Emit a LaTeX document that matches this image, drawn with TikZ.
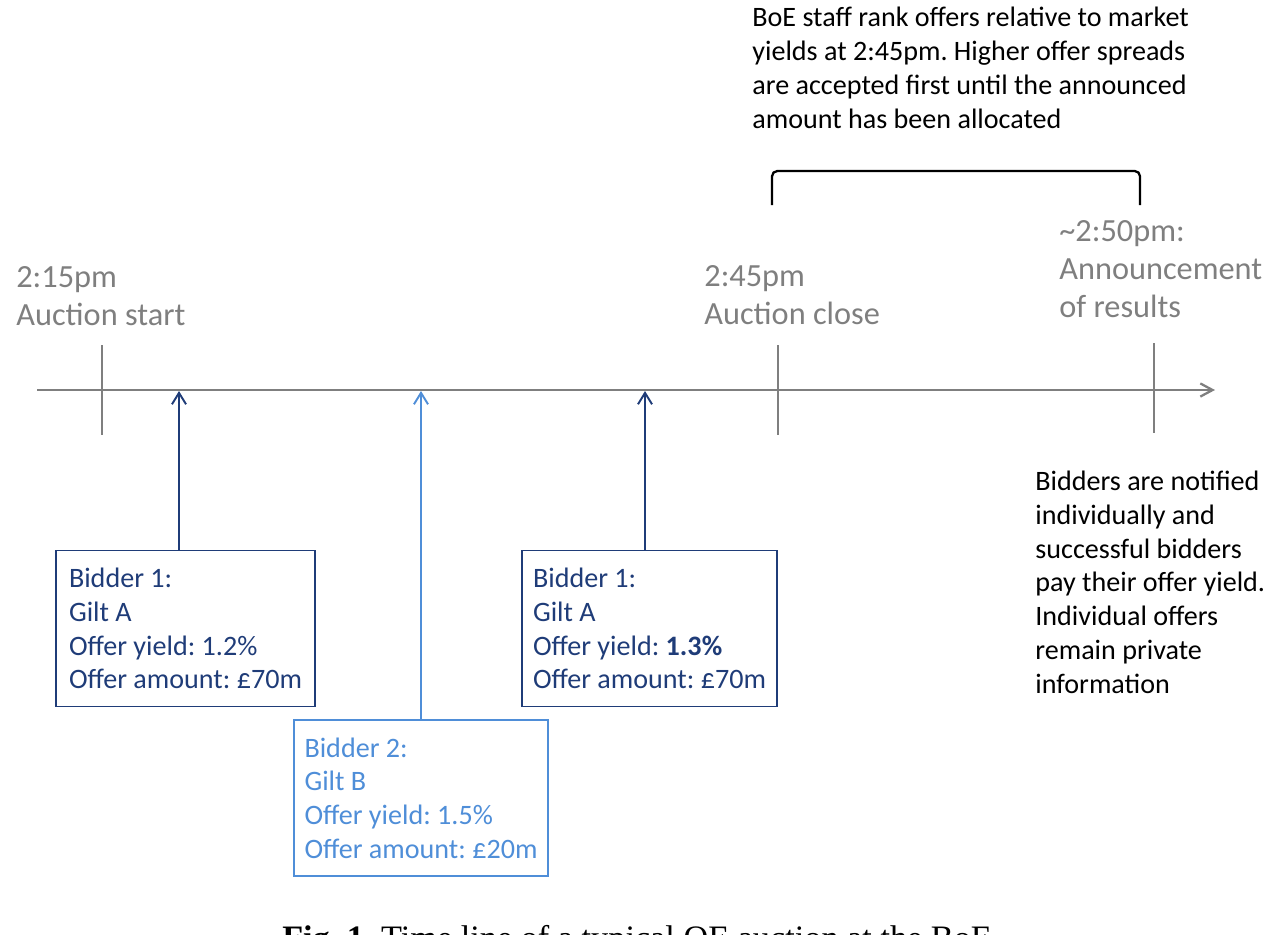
\documentclass[tikz,border=0pt]{standalone}
\usepackage{fontspec}
\setmainfont{Carlito}
\newfontfamily\capfont{Liberation Serif}
\usetikzlibrary{arrows.meta,positioning,calc}
\definecolor{QEDark}{HTML}{1F3C78}
\definecolor{QELight}{HTML}{4F8ED8}
\definecolor{QEGrey}{HTML}{7F7F7F}
\newcommand{\bodysize}{\fontsize{16}{19.2}\selectfont}
\newcommand{\stampsize}{\fontsize{18.4}{21.6}\selectfont}
\frenchspacing

\begin{document}
\begin{tikzpicture}[
  x=0.02cm, y=-0.02cm,
  bidbox/.style={draw, line width=1.1pt, align=left, inner sep=0pt,
    minimum height=3.12cm, font=\bodysize},
  bidarr/.style={-{Straight Barb[length=6.5pt,width=8pt]}, line width=1.1pt},
  stamp/.style={font=\stampsize, color=QEGrey, align=left, inner sep=0pt,
    anchor=base west},
  note/.style={font=\bodysize, align=left, inner sep=0pt, anchor=base west}
]
\useasboundingbox (0,0) rectangle (1283,934);

% Time axis
\coordinate (ax0) at (37,390);
\coordinate (ax1) at (1215,390);
\draw[QEGrey, line width=1.3pt, -{Straight Barb[length=7pt,width=7.5pt]}]
  (ax0) -- (ax1);
\foreach \x/\yt/\yb in {102/345/435, 778/345/435, 1154/343/433}
  \draw[QEGrey, line width=1.1pt] (\x,\yt) -- (\x,\yb);

% Time stamps (anchored on the last line)
\node[stamp] (start) at (16,325) {2:15pm\\Auction start};
\node[stamp] (close) at (704,324) {2:45pm\\Auction close};
\node[stamp] (result) at (1059,317)
  {\textasciitilde2:50pm:\\Announcement\\of results};

% Ranking window
\node[note] (rank) at (752,128)
  {BoE staff rank offers relative to market\\
   yields at 2:45pm. Higher offer spreads\\
   are accepted first until the announced\\
   amount has been allocated};
\coordinate (brL) at (772,205);
\coordinate (brR) at (1140,205);
\draw[line width=1.3pt, rounded corners=3pt] (brL) -- ++(0,-34) -| (brR);

% Offers
\node[bidbox, draw=QEDark, text=QEDark, minimum width=5.18cm] (bid1)
  at (185.5,628.5)
  {Bidder 1:\\Gilt A\\Offer yield: 1.2\%\\Offer amount: £70m};
\node[bidbox, draw=QELight, text=QELight, minimum width=5.08cm] (bid2)
  at (421,798)
  {Bidder 2:\\Gilt B\\Offer yield: 1.5\%\\Offer amount: £20m};
\node[bidbox, draw=QEDark, text=QEDark, minimum width=5.10cm] (bid3)
  at (649.5,628.5)
  {Bidder 1:\\Gilt A\\Offer yield: \textbf{1.3\%}\\Offer amount: £70m};

\coordinate (hit1) at (179,391);
\coordinate (hit2) at (421,391);
\coordinate (hit3) at (645,391);
\draw[bidarr, QEDark] (bid1.north -| hit1) -- (hit1);
\draw[bidarr, QELight] (bid2.north -| hit2) -- (hit2);
\draw[bidarr, QEDark] (bid3.north -| hit3) -- (hit3);

% Outcome
\node[note] (notify) at (1035,693)
  {Bidders are notified\\individually and\\successful bidders\\
   pay their offer yield.\\Individual offers\\remain private\\information};

% Caption (cut by the page edge)
\node[font=\capfont\fontsize{19.5}{23}\selectfont, anchor=base] (caption)
  at (637,949) {\textbf{Fig. 1.} Time line of a typical QE auction at the BoE};
\end{tikzpicture}
\end{document}
